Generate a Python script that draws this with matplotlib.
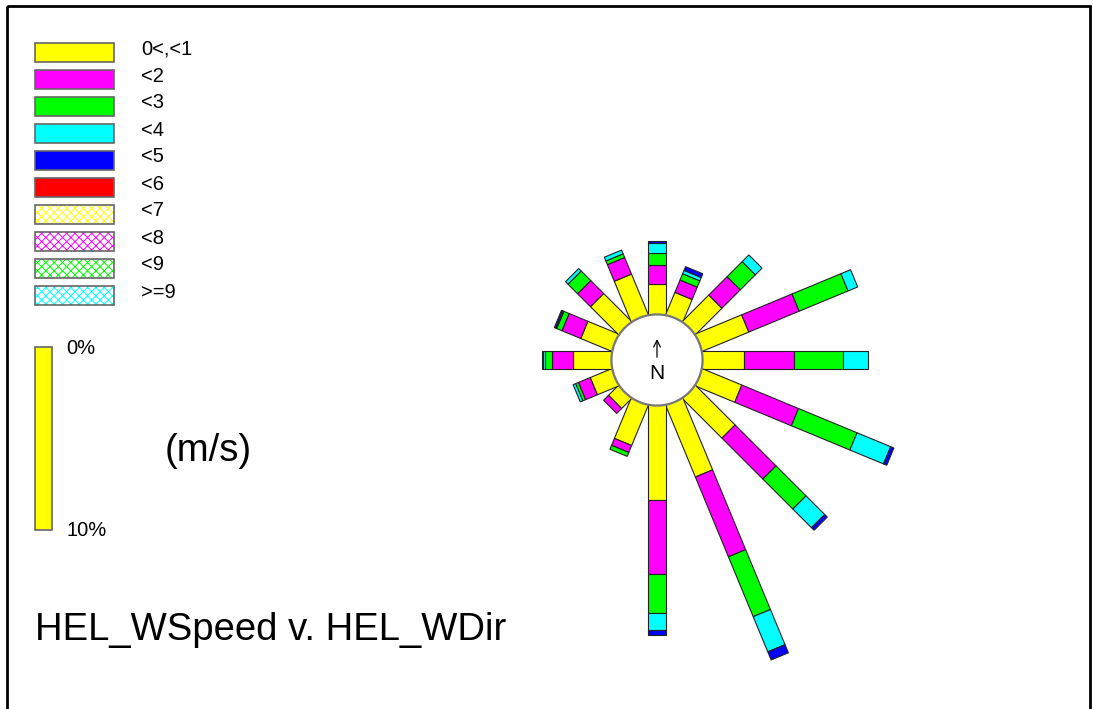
import matplotlib
matplotlib.use("Agg")
import matplotlib.pyplot as plt
from matplotlib.patches import Rectangle, Circle
import numpy as np

# 16 compass sectors, clockwise from north
directions = ["N", "NNE", "NE", "ENE", "E", "ESE", "SE", "SSE",
              "S", "SSW", "SW", "WSW", "W", "WNW", "NW", "NNW"]

# frequency (%) of each speed class per direction
spd_0_1 = [1.64, 1.30, 2.02, 2.73, 2.24, 2.32, 3.04, 4.22, 5.17, 2.36, 0.75, 1.25, 2.09, 1.81, 2.14, 2.38]
spd_1_2 = [1.05, 0.73, 1.42, 2.98, 2.73, 3.35, 3.16, 4.72, 4.06, 0.41, 0.38, 0.70, 1.18, 1.11, 1.00, 0.98]
spd_2_3 = [0.68, 0.37, 1.16, 2.89, 2.68, 3.46, 2.32, 3.54, 2.13, 0.23, 0.00, 0.16, 0.37, 0.31, 0.74, 0.22]
spd_3_4 = [0.51, 0.20, 0.52, 0.57, 1.37, 1.99, 1.44, 2.08, 0.93, 0.00, 0.00, 0.15, 0.11, 0.06, 0.19, 0.22]
spd_4_5 = [0.13, 0.22, 0.00, 0.00, 0.00, 0.19, 0.20, 0.48, 0.26, 0.00, 0.00, 0.00, 0.07, 0.08, 0.00, 0.00]
spd_5_6 = [0.0] * 16
spd_6_7 = [0.0] * 16
spd_7_8 = [0.0] * 16
spd_8_9 = [0.0] * 16
spd_9up = [0.0] * 16

speed_labels = ["0<,<1", "<2", "<3", "<4", "<5", "<6", "<7", "<8", "<9", ">=9"]
speed_series = [spd_0_1, spd_1_2, spd_2_3, spd_3_4, spd_4_5,
                spd_5_6, spd_6_7, spd_7_8, spd_8_9, spd_9up]
speed_colors = ["#FFFF00", "#FF00FF", "#00FF00", "#00FFFF", "#0000FF",
                "#FF0000", "#FFFF00", "#FF00FF", "#00FF00", "#00FFFF"]
speed_hatched = [False] * 6 + [True] * 4

SCALE_PCT = 10          # length of the scale bar, in %
W, H = 1093, 709
PX_PER_PCT = 18.3       # 10 % -> 183 px
CX, CY = 657, 360       # rose centre in pixels
HUB = 2.49              # radius of the centre circle, in % units
BAR_W = 1.02            # bar width, in % units

plt.rcParams["hatch.linewidth"] = 0.7

fig = plt.figure(figsize=(W / 100, H / 100), dpi=100)

# rose axes in percent units, centre at the origin
ax = fig.add_axes([0, 0, 1, 1])
ax.set_xlim(-CX / PX_PER_PCT, (W - CX) / PX_PER_PCT)
ax.set_ylim(-(H - CY) / PX_PER_PCT, CY / PX_PER_PCT)
ax.set_axis_off()

# overlay axes in pixel units for legend and labels
lay = fig.add_axes([0, 0, 1, 1], zorder=3)
lay.set_xlim(0, W)
lay.set_ylim(H, 0)
lay.set_axis_off()
lay.patch.set_alpha(0)

data = np.array(speed_series)
for i, d in enumerate(directions):
    th = np.deg2rad(i * 22.5)
    u = np.array([np.sin(th), np.cos(th)])
    nrm = np.array([np.cos(th), -np.sin(th)])
    r0 = HUB - 0.3
    first = True
    for k in range(len(speed_labels)):
        v = data[k, i]
        if v <= 0:
            continue
        length = v + (0.3 if first else 0)
        xy = r0 * u + (BAR_W / 2) * nrm
        ax.add_patch(Rectangle(xy, length, BAR_W, angle=90 - i * 22.5,
                               facecolor=speed_colors[k], edgecolor="#222222",
                               lw=0.8, hatch="xxxx" if speed_hatched[k] else None,
                               zorder=2))
        r0 += length
        first = False

ax.add_patch(Circle((0, 0), HUB, facecolor="white", edgecolor="#777777",
                    lw=1.6, zorder=4))
ax.annotate("", xy=(0, 1.3), xytext=(0, 0.0),
            arrowprops=dict(arrowstyle="->", lw=0.9, color="black",
                            mutation_scale=12), zorder=5)
ax.text(0, -0.72, "N", ha="center", va="center", fontsize=15,
        family="Liberation Sans", zorder=5)

# scale bar: SCALE_PCT long in rose units
sb_x = (35 - CX) / PX_PER_PCT
sb_top = (CY - 347) / PX_PER_PCT
ax.add_patch(Rectangle((sb_x, sb_top - SCALE_PCT), 17 / PX_PER_PCT, SCALE_PCT,
                       facecolor="#FFFF00", edgecolor="#666666", lw=1.2))

font = "Liberation Sans"
# legend
for k, lab in enumerate(speed_labels):
    y0 = 43 + k * 27
    if speed_hatched[k]:
        lay.add_patch(Rectangle((35, y0), 79, 19, facecolor="white",
                                edgecolor=speed_colors[k], lw=0, hatch="xxxx"))
        lay.add_patch(Rectangle((35, y0), 79, 19, fill=False,
                                edgecolor="#666666", lw=1.2))
    else:
        lay.add_patch(Rectangle((35, y0), 79, 19, facecolor=speed_colors[k],
                                edgecolor="#666666", lw=1.2))
    lay.text(141, y0 + 6, lab, ha="left", va="center", fontsize=14.5, family=font)

lay.text(66, 348, "0%", ha="left", va="center", fontsize=14.5, family=font)
lay.text(66, 531, "10%", ha="left", va="center", fontsize=14.5, family=font)
lay.text(165, 451, "(m/s)", ha="left", va="center", fontsize=27.5, family=font)
lay.text(35, 640, "HEL_WSpeed v. HEL_WDir", ha="left", va="baseline",
         fontsize=27.5, family=font)

# outer frame (bottom edge falls outside the image)
lay.add_patch(Rectangle((7, 6), 1083, 720, fill=False, edgecolor="black", lw=2,
                        clip_on=False))

fig.savefig("out.png", dpi=100)
